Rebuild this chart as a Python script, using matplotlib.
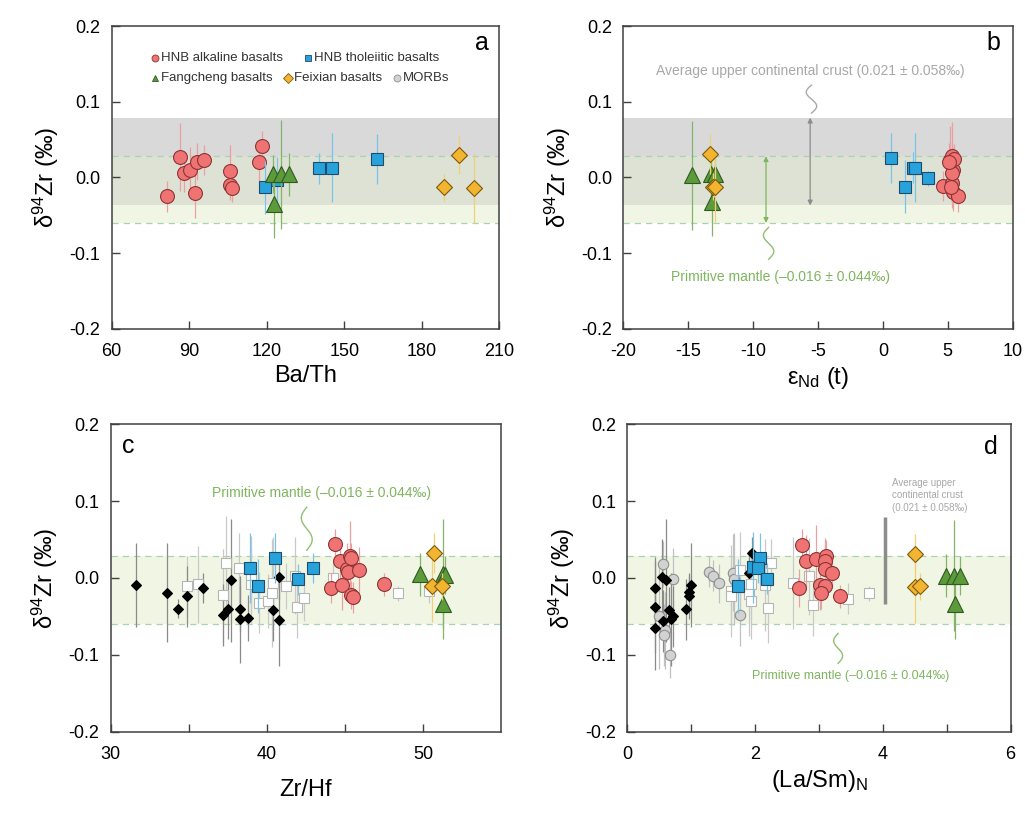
import numpy as np
import matplotlib
matplotlib.use("Agg")
import matplotlib.pyplot as plt
from matplotlib.ticker import FixedLocator, FormatStrFormatter

plt.rcParams["font.family"] = ["Liberation Sans", "DejaVu Sans"]
plt.rcParams["mathtext.fontset"] = "custom"
plt.rcParams["mathtext.rm"] = "Liberation Sans"
plt.rcParams["mathtext.it"] = "Liberation Sans:italic"
plt.rcParams["axes.unicode_minus"] = False

# reference ranges (permil)
ucc_mean, ucc_err = 0.021, 0.058
pm_mean, pm_err = -0.016, 0.044

# ---- panel a: Ba/Th ----
alk_a_x = [81.3, 86.5, 87.8, 90.3, 92.3, 92.9, 95.8, 105.6, 105.6, 106.5, 116.9, 118.3]
alk_a_y = [-0.025, 0.027, 0.006, 0.010, -0.021, 0.021, 0.023, 0.009, -0.010, -0.014, 0.020, 0.042]
alk_a_e = [0.020, 0.045, 0.025, 0.030, 0.033, 0.025, 0.020, 0.034, 0.020, 0.018, 0.025, 0.020]
tho_a_x = [119.3, 123.9, 140.4, 145.3, 162.6]
tho_a_y = [-0.013, -0.003, 0.012, 0.013, 0.025]
tho_a_e = [0.035, 0.030, 0.020, 0.046, 0.033]
fang_a_x = [122.6, 122.9, 125.6, 128.5]
fang_a_y = [0.004, -0.035, 0.004, 0.004]
fang_a_e = [0.025, 0.045, 0.072, 0.028]
fei_a_x = [188.8, 194.4, 200.1]
fei_a_y = [-0.013, 0.030, -0.014]
fei_a_e = [0.018, 0.026, 0.046]

# ---- panel b: eNd(t) ----
alk_b_x = [4.6, 5.2, 5.35, 5.4, 5.3, 5.4, 5.8, 5.35, 5.5, 5.25, 5.1]
alk_b_y = [-0.011, 0.023, 0.028, 0.010, -0.007, -0.019, -0.025, 0.006, 0.024, -0.013, 0.021]
alk_b_e = [0.020, 0.045, 0.045, 0.030, 0.033, 0.025, 0.020, 0.034, 0.020, 0.018, 0.025]
tho_b_x = [0.64, 1.67, 2.3, 2.5, 3.46]
tho_b_y = [0.026, -0.012, 0.013, 0.013, -0.001]
tho_b_e = [0.033, 0.035, 0.020, 0.046, 0.010]
fang_b_x = [-14.7, -13.2, -12.95, -13.15]
fang_b_y = [0.003, 0.004, 0.004, -0.033]
fang_b_e = [0.072, 0.028, 0.025, 0.045]
fei_b_x = [-13.3, -13.05, -12.95]
fei_b_y = [0.031, -0.012, -0.013]
fei_b_e = [0.026, 0.018, 0.046]

# ---- panel c: Zr/Hf ----
blk_c_x = [31.6, 33.6, 34.3, 34.9, 35.9, 37.2, 37.5, 37.7, 38.3, 38.3, 38.8, 40.4, 40.8, 40.8]
blk_c_y = [-0.009, -0.019, -0.040, -0.024, -0.013, -0.048, -0.040, -0.003, -0.040, -0.054, -0.052, -0.042, -0.055, 0.001]
blk_c_e = [0.055, 0.064, 0.012, 0.040, 0.020, 0.040, 0.040, 0.080, 0.030, 0.056, 0.030, 0.040, 0.060, 0.030]
opn_c_x = [34.9, 35.6, 37.2, 37.4, 38.2, 39.0, 39.0, 39.5, 40.1, 40.3, 40.4, 41.2, 41.8, 41.9, 42.4, 44.2, 48.4, 50.4]
opn_c_y = [-0.011, -0.008, -0.022, 0.020, 0.013, -0.008, 0.004, -0.032, -0.030, -0.020, -0.007, -0.010, 0.003, -0.038, -0.026, 0.000, -0.020, -0.017]
opn_c_e = [0.040, 0.050, 0.060, 0.060, 0.045, 0.050, 0.050, 0.040, 0.035, 0.070, 0.060, 0.030, 0.050, 0.040, 0.030, 0.020, 0.010, 0.015]
tho_c_x = [38.9, 39.4, 40.5, 42.0, 42.95]
tho_c_y = [0.013, -0.010, 0.026, -0.002, 0.013]
tho_c_e = [0.046, 0.035, 0.033, 0.020, 0.020]
alk_c_x = [44.35, 44.7, 45.1, 45.3, 45.4, 45.2, 45.9, 44.1, 44.8, 45.4, 45.5, 47.5]
alk_c_y = [0.044, 0.022, 0.011, 0.029, 0.026, 0.008, 0.010, -0.013, -0.009, -0.022, -0.025, -0.008]
alk_c_e = [0.020, 0.025, 0.034, 0.045, 0.020, 0.030, 0.030, 0.020, 0.033, 0.018, 0.020, 0.015]
fei_c_x = [50.7, 50.6, 51.2]
fei_c_y = [0.032, -0.011, -0.011]
fei_c_e = [0.026, 0.046, 0.018]
fang_c_x = [49.8, 51.3, 51.4, 51.3]
fang_c_y = [0.005, 0.005, 0.004, -0.034]
fang_c_e = [0.028, 0.072, 0.025, 0.045]

# ---- panel d: (La/Sm)N ----
blk_d_x = [0.43, 0.43, 0.43, 0.55, 0.56, 0.61, 0.66, 0.68, 0.72, 0.92, 0.96, 0.97, 1.0, 1.95, 1.9]
blk_d_y = [-0.013, -0.038, -0.065, 0.001, -0.056, -0.003, -0.042, -0.054, -0.050, -0.041, -0.018, -0.024, -0.009, 0.033, 0.006]
blk_d_e = [0.040, 0.060, 0.055, 0.050, 0.040, 0.080, 0.030, 0.060, 0.040, 0.040, 0.020, 0.030, 0.055, 0.020, 0.030]
mor_d_x = [0.56, 0.72, 0.49, 0.59, 0.57, 0.67, 1.28, 1.34, 1.43, 1.65, 1.77, 1.67]
mor_d_y = [0.018, -0.001, -0.049, -0.068, -0.074, -0.100, 0.008, 0.003, -0.007, 0.007, -0.048, -0.001]
mor_d_e = [0.030, 0.040, 0.070, 0.050, 0.040, 0.030, 0.020, 0.020, 0.025, 0.050, 0.040, 0.060]
opn_d_x = [1.62, 1.63, 1.77, 1.93, 1.91, 1.94, 2.25, 2.2, 2.16, 2.59, 2.85, 2.9, 3.46, 3.79]
opn_d_y = [-0.017, -0.023, 0.010, -0.008, -0.021, -0.030, 0.020, -0.039, -0.009, -0.007, 0.002, -0.035, -0.027, -0.020]
opn_d_e = [0.060, 0.040, 0.050, 0.045, 0.055, 0.050, 0.030, 0.045, 0.060, 0.060, 0.050, 0.040, 0.020, 0.010]
tho_d_x = [1.74, 1.97, 2.08, 2.05, 2.18]
tho_d_y = [-0.011, 0.014, 0.026, 0.013, -0.001]
tho_d_e = [0.035, 0.046, 0.033, 0.020, 0.020]
alk_d_x = [2.73, 2.68, 2.8, 2.96, 3.11, 3.1, 3.09, 3.2, 3.02, 3.1, 3.03, 3.33]
alk_d_y = [0.043, -0.013, 0.022, 0.024, 0.029, 0.022, 0.011, 0.007, -0.009, -0.010, -0.020, -0.024]
alk_d_e = [0.020, 0.025, 0.034, 0.045, 0.020, 0.030, 0.030, 0.020, 0.033, 0.018, 0.020, 0.015]
fei_d_x = [4.5, 4.51, 4.58]
fei_d_y = [0.031, -0.012, -0.011]
fei_d_e = [0.026, 0.046, 0.018]
fang_d_x = [4.99, 5.12, 5.21, 5.13]
fang_d_y = [0.003, 0.003, 0.003, -0.034]
fang_d_e = [0.028, 0.072, 0.025, 0.045]

# styles
S_ALK = dict(marker="o", mfc="#ef7373", mec="#8e3434", ms=10, ecolor="#eaa0a0")
S_THO = dict(marker="s", mfc="#27a2db", mec="#1d4d6b", ms=9, ecolor="#79c4e8")
S_FANG = dict(marker="^", mfc="#5c9a3c", mec="#2e5a1f", ms=11, ecolor="#84b46a")
S_FEI = dict(marker="D", mfc="#f3b52f", mec="#7d5a0e", ms=8, ecolor="#f1cf76")
S_BLK = dict(marker="D", mfc="black", mec="black", ms=5.5, ecolor="#8a8a8a")
S_OPN = dict(marker="s", mfc="white", mec="#b5b5b5", ms=7, ecolor="#c9c9c9")
S_MOR = dict(marker="o", mfc="#d2d2d2", mec="#8f8f8f", ms=7.5, ecolor="#c0c0c0")

GREY_BAND = "#d9d9d9"
OVERLAP = "#dde2d5"
GREEN_BAND = "#f1f6e4"
DASH = "#a9d3b0"
AXC = "#404040"


def pts(ax, x, y, e, st, z):
    ax.errorbar(x, y, yerr=e, fmt="none", ecolor=st["ecolor"], elinewidth=0.9, zorder=z)
    ax.plot(x, y, ls="none", marker=st["marker"], mfc=st["mfc"], mec=st["mec"],
            ms=st["ms"], mew=0.8, zorder=z + 0.5)


def bands(ax, crust=True):
    lo_pm, hi_pm = pm_mean - pm_err, pm_mean + pm_err
    lo_c, hi_c = ucc_mean - ucc_err, ucc_mean + ucc_err
    if crust:
        ax.axhspan(hi_pm, hi_c, color=GREY_BAND, lw=0, zorder=0)
        ax.axhspan(lo_c, hi_pm, color=OVERLAP, lw=0, zorder=0)
        ax.axhspan(lo_pm, lo_c, color=GREEN_BAND, lw=0, zorder=0)
    else:
        ax.axhspan(lo_pm, hi_pm, color=GREEN_BAND, lw=0, zorder=0)
    for v in (lo_pm, hi_pm):
        ax.axhline(v, color=DASH, lw=0.9, ls=(0, (5, 4)), zorder=0.5)


def squiggle(ax, x, y0, y1, w, color):
    # smooth S-shaped break connector
    t = np.linspace(0, 1, 40)
    ax.plot(x + 0.5 * w * np.sin(2 * np.pi * t), y0 + t * (y1 - y0), color=color,
            lw=1.0, zorder=3)


def style(ax, xlim, xticks, minor=None):
    ax.set_xlim(*xlim)
    ax.set_ylim(-0.2, 0.2)
    ax.set_xticks(xticks)
    if minor is not None:
        ax.xaxis.set_minor_locator(FixedLocator(minor))
    ax.set_yticks([-0.2, -0.1, 0.0, 0.1, 0.2])
    ax.yaxis.set_major_formatter(FormatStrFormatter("%.1f"))
    ax.tick_params(which="both", direction="in", length=6, width=1, color=AXC,
                   labelsize=13, top=False, right=False)
    ax.tick_params(axis="x", pad=10)
    ax.tick_params(axis="y", pad=8)
    for s in ax.spines.values():
        s.set_color(AXC)
        s.set_linewidth(1.1)
    ax.set_ylabel("δ$^{94}$Zr (‰)", fontsize=17, labelpad=6)


fig = plt.figure(figsize=(10.25, 8.14), dpi=100)
ax_a = fig.add_axes([0.109, 0.596, 0.378, 0.372])
ax_b = fig.add_axes([0.608, 0.596, 0.380, 0.372])
ax_c = fig.add_axes([0.108, 0.101, 0.381, 0.378])
ax_d = fig.add_axes([0.612, 0.101, 0.374, 0.378])

# panel a
bands(ax_a)
pts(ax_a, alk_a_x, alk_a_y, alk_a_e, S_ALK, 3)
pts(ax_a, tho_a_x, tho_a_y, tho_a_e, S_THO, 4)
pts(ax_a, fang_a_x, fang_a_y, fang_a_e, S_FANG, 5)
pts(ax_a, fei_a_x, fei_a_y, fei_a_e, S_FEI, 4)
style(ax_a, (60, 210), [60, 90, 120, 150, 180, 210])
ax_a.set_xlabel("Ba/Th", fontsize=17)
ax_a.text(0.956, 0.945, "a", transform=ax_a.transAxes, fontsize=18, ha="center", va="center")

leg = [
    ("HNB alkaline basalts", S_ALK, 0.111, 0.894),
    ("HNB tholeiitic basalts", S_THO, 0.506, 0.894),
    ("Fangcheng basalts", S_FANG, 0.111, 0.828),
    ("Feixian basalts", S_FEI, 0.455, 0.828),
    ("MORBs", S_MOR, 0.736, 0.828),
]
for name, st, lx, ly in leg:
    ax_a.plot([lx], [ly], transform=ax_a.transAxes, ls="none", marker=st["marker"],
              mfc=st["mfc"], mec=st["mec"], ms=5, mew=0.6, clip_on=False, zorder=6)
    ax_a.text(lx + 0.016, ly, name, transform=ax_a.transAxes, fontsize=9.5,
              color="#333333", ha="left", va="center")

# panel b
bands(ax_b)
pts(ax_b, alk_b_x, alk_b_y, alk_b_e, S_ALK, 3)
pts(ax_b, tho_b_x, tho_b_y, tho_b_e, S_THO, 4)
pts(ax_b, fang_b_x, fang_b_y, fang_b_e, S_FANG, 3)
pts(ax_b, fei_b_x, fei_b_y, fei_b_e, S_FEI, 4)
style(ax_b, (-20, 10), [-20, -15, -10, -5, 0, 5, 10])
ax_b.set_xlabel("ε$_{\\mathrm{Nd}}$ (t)", fontsize=17)
ax_b.text(0.95, 0.945, "b", transform=ax_b.transAxes, fontsize=18, ha="center", va="center")
ax_b.annotate("", xy=(-5.6, ucc_mean - ucc_err), xytext=(-5.6, ucc_mean + ucc_err),
              arrowprops=dict(arrowstyle="<|-|>", color="#8c8c8c", lw=0.9,
                              mutation_scale=7, shrinkA=0, shrinkB=0), zorder=3)
ax_b.annotate("", xy=(-9.0, pm_mean - pm_err), xytext=(-9.0, pm_mean + pm_err),
              arrowprops=dict(arrowstyle="<|-|>", color="#7fb55e", lw=0.9,
                              mutation_scale=7, shrinkA=0, shrinkB=0), zorder=3)
squiggle(ax_b, -5.5, 0.085, 0.122, 0.8, "#a8a8a8")
squiggle(ax_b, -8.8, -0.108, -0.066, 0.8, "#8fc070")
ax_b.text(-5.6, 0.14, "Average upper continental crust (0.021 ± 0.058‰)", fontsize=10,
          color="#a8a8a8", ha="center", va="center")
ax_b.text(-7.9, -0.131, "Primitive mantle (–0.016 ± 0.044‰)", fontsize=10,
          color="#7fb55e", ha="center", va="center")

# panel c
bands(ax_c, crust=False)
pts(ax_c, opn_c_x, opn_c_y, opn_c_e, S_OPN, 2)
pts(ax_c, blk_c_x, blk_c_y, blk_c_e, S_BLK, 2.2)
pts(ax_c, tho_c_x, tho_c_y, tho_c_e, S_THO, 4)
pts(ax_c, alk_c_x, alk_c_y, alk_c_e, S_ALK, 3)
pts(ax_c, fei_c_x, fei_c_y, fei_c_e, S_FEI, 4)
pts(ax_c, fang_c_x, fang_c_y, fang_c_e, S_FANG, 3)
style(ax_c, (30, 55), [30, 40, 50], minor=[35, 45])
ax_c.set_xlabel("Zr/Hf", fontsize=17, labelpad=12)
ax_c.text(0.046, 0.93, "c", transform=ax_c.transAxes, fontsize=18, ha="center", va="center")
squiggle(ax_c, 42.55, 0.036, 0.092, 0.7, "#8fc070")
ax_c.text(43.5, 0.110, "Primitive mantle (–0.016 ± 0.044‰)", fontsize=10,
          color="#7fb55e", ha="center", va="center")

# panel d
bands(ax_d, crust=False)
pts(ax_d, mor_d_x, mor_d_y, mor_d_e, S_MOR, 2)
pts(ax_d, opn_d_x, opn_d_y, opn_d_e, S_OPN, 2)
pts(ax_d, blk_d_x, blk_d_y, blk_d_e, S_BLK, 2.2)
pts(ax_d, tho_d_x, tho_d_y, tho_d_e, S_THO, 4)
pts(ax_d, alk_d_x, alk_d_y, alk_d_e, S_ALK, 3)
pts(ax_d, fei_d_x, fei_d_y, fei_d_e, S_FEI, 4)
pts(ax_d, fang_d_x, fang_d_y, fang_d_e, S_FANG, 3)
style(ax_d, (0, 6), [0, 2, 4, 6], minor=[1, 3, 5])
ax_d.set_xlabel("(La/Sm)$_{\\mathrm{N}}$", fontsize=17, labelpad=4)
ax_d.text(0.948, 0.925, "d", transform=ax_d.transAxes, fontsize=18, ha="center", va="center")
ax_d.plot([4.04, 4.04], [ucc_mean - ucc_err + 0.003, ucc_mean + ucc_err], color="#8c8c8c",
          lw=2.5, solid_capstyle="butt", zorder=3)
ax_d.text(4.14, 0.13, "Average upper\ncontinental crust\n(0.021 ± 0.058‰)", fontsize=7,
          color="#a8a8a8", ha="left", va="top", linespacing=1.3)
squiggle(ax_d, 3.3, -0.111, -0.072, 0.14, "#8fc070")
ax_d.text(3.5, -0.128, "Primitive mantle (–0.016 ± 0.044‰)", fontsize=9,
          color="#7fb55e", ha="center", va="center")

fig.savefig("out.png", dpi=100)
